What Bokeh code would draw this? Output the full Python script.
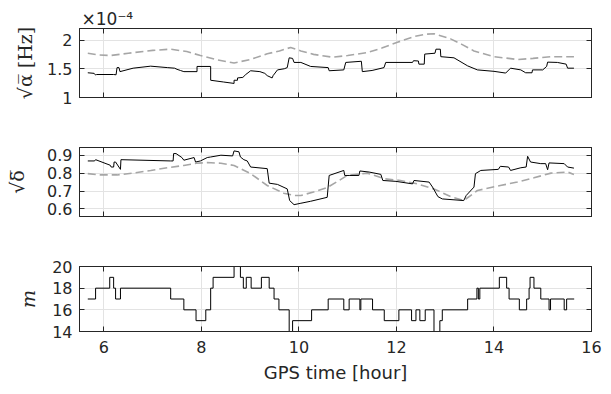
from bokeh.plotting import figure
from bokeh.layouts import column
from bokeh.models import FixedTicker, LinearAxis, Range1d, Title, CustomJSTickFormatter
from bokeh.embed import file_html
from bokeh.resources import INLINE

# ---------------- data ----------------
x_ticks = [6, 8, 10, 12, 14, 16]

# panel 1: sqrt(alpha) [Hz] x 1e-4
t_alpha_model = [5.67, 5.9, 6.14, 6.5, 7.0, 7.37, 7.7, 7.98, 8.3, 8.67, 9.0, 9.35, 9.6, 9.83,
                 10.04, 10.3, 10.69, 11.0, 11.4, 11.7, 12.02, 12.36, 12.6, 12.77, 13.11, 13.35,
                 13.59, 14.0, 14.3, 14.48, 14.8, 15.17, 15.64]
alpha_model = [1.77, 1.74, 1.73, 1.77, 1.82, 1.84, 1.80, 1.73, 1.66, 1.60, 1.66, 1.76, 1.81, 1.87,
               1.81, 1.75, 1.70, 1.73, 1.78, 1.86, 1.96, 2.06, 2.10, 2.11, 2.02, 1.92,
               1.81, 1.71, 1.68, 1.66, 1.68, 1.71, 1.71]
t_alpha_est = [5.67, 5.80, 5.83, 5.85, 6.20, 6.25, 6.27, 6.31, 6.33, 6.6, 6.96, 7.3, 7.45, 7.5,
               7.57, 7.64, 7.91, 7.91, 8.19, 8.19, 8.45, 8.67, 8.67, 8.74, 8.74, 8.85, 8.91, 9.01,
               9.2, 9.3, 9.35, 9.45, 9.47, 9.56, 9.7, 9.76, 9.80, 9.87, 9.90, 10.04, 10.24, 10.6,
               10.62, 10.92, 10.96, 11.28, 11.30, 11.5, 11.745, 11.78, 12.33, 12.35, 12.45, 12.46,
               12.57, 12.58, 12.79, 12.81, 12.90, 12.91, 13.18, 13.46, 13.66, 14.0, 14.24, 14.34,
               14.55, 14.65, 14.78, 14.79, 15.0, 15.08, 15.10, 15.3, 15.48, 15.51, 15.64]
alpha_est = [1.43, 1.42, 1.39, 1.40, 1.40, 1.395, 1.52, 1.52, 1.45, 1.51, 1.545, 1.52, 1.51, 1.49,
             1.47, 1.45, 1.45, 1.54, 1.54, 1.30, 1.27, 1.245, 1.30, 1.30, 1.34, 1.35, 1.40, 1.465,
             1.45, 1.42, 1.38, 1.34, 1.38, 1.48, 1.50, 1.52, 1.69, 1.68, 1.61, 1.61, 1.54, 1.52,
             1.465, 1.48, 1.61, 1.63, 1.45, 1.47, 1.52, 1.61, 1.61, 1.64, 1.635, 1.58,
             1.58, 1.755, 1.77, 1.84, 1.84, 1.71, 1.69, 1.55, 1.48, 1.455, 1.425, 1.51,
             1.48, 1.43, 1.43, 1.48, 1.48, 1.54, 1.615, 1.61, 1.58, 1.51, 1.51]
alpha_ticks = [1, 1.5, 2]
alpha_tick_labels = ["1", "1.5", "2"]
alpha_scale_label = "\u00d710\u207b\u2074"

# panel 2: sqrt(delta)
t_delta_model = [5.67, 5.9, 6.27, 6.6, 6.96, 7.3, 7.64, 7.9, 8.12, 8.4, 8.67, 9.01, 9.35, 9.69,
                 9.90, 10.04, 10.3, 10.58, 10.8, 10.99, 11.4, 11.745, 12.08, 12.43, 12.77, 13.11,
                 13.38, 13.66, 14.13, 14.48, 14.82, 15.17, 15.51, 15.64]
delta_model = [0.797, 0.79, 0.79, 0.80, 0.815, 0.83, 0.843, 0.855, 0.859, 0.855, 0.843, 0.797,
               0.731, 0.688, 0.675, 0.675, 0.695, 0.72, 0.755, 0.787, 0.80, 0.769, 0.759, 0.74,
               0.712, 0.669, 0.647, 0.703, 0.731, 0.75, 0.774, 0.80, 0.806, 0.793]
t_delta_est = [5.67, 5.81, 5.83, 6.13, 6.15, 6.20, 6.21, 6.24, 6.34, 6.35, 7.37, 7.42, 7.43, 7.48,
               7.60, 7.64, 7.85, 7.88, 7.98, 8.12, 8.19, 8.40, 8.64, 8.67, 8.77, 8.80, 8.87, 8.94,
               9.01, 9.35, 9.39, 9.56, 9.76, 9.81, 9.90, 10.04, 10.24, 10.58, 10.62, 10.92, 10.94,
               11.03, 11.23, 11.25, 11.44, 11.68, 11.72, 11.99, 12.33, 12.36, 12.67, 12.74, 12.85,
               12.94, 13.38, 13.43, 13.59, 13.62, 13.73, 14.09, 14.13, 14.30, 14.34, 14.55, 14.66,
               14.69, 14.75, 14.96, 15.06, 15.10, 15.13, 15.44, 15.51, 15.64]
delta_est = [0.868, 0.868, 0.875, 0.844, 0.834, 0.834, 0.862, 0.862, 0.821, 0.875, 0.868, 0.868,
             0.909, 0.909, 0.887, 0.872, 0.887, 0.862, 0.868, 0.887, 0.890, 0.900, 0.896, 0.924,
             0.919, 0.890, 0.875, 0.868, 0.834, 0.825, 0.744, 0.737, 0.712, 0.647, 0.624, 0.632,
             0.643, 0.665, 0.787, 0.815, 0.787, 0.787, 0.787, 0.812, 0.806, 0.793, 0.759, 0.754,
             0.740, 0.759, 0.750, 0.722, 0.669, 0.656, 0.647, 0.675, 0.722, 0.797, 0.815, 0.821,
             0.838, 0.834, 0.815, 0.830, 0.834, 0.894, 0.862, 0.853, 0.853, 0.819, 0.857, 0.853,
             0.834, 0.828]
delta_ticks = [0.6, 0.7, 0.8, 0.9]

# panel 3: m (integer, piecewise constant)
t_m = [5.67, 5.83, 6.12, 6.20, 6.24, 6.34, 7.37, 7.64, 7.89, 8.09, 8.19, 8.24, 8.67, 8.80, 8.86,
       8.92, 9.02, 9.23, 9.39, 9.49, 9.59, 9.80, 9.87, 10.26, 10.60, 10.92, 11.03, 11.25, 11.27,
       11.51, 11.75, 12.05, 12.31, 12.40, 12.48, 12.59, 12.77, 12.89, 12.94, 13.46, 13.65, 13.68,
       13.71, 14.11, 14.26, 14.31, 14.52, 14.67, 14.72, 14.74, 14.82, 14.96, 15.13, 15.16, 15.44,
       15.49, 15.645]
m_vals = [17, 18, 19, 18, 17, 18, 17, 16, 15, 16, 18, 19, 20, 19, 18,
          19, 18, 19, 18, 17, 16, 14, 15, 16, 17, 16, 17, 16, 17,
          16, 15, 16, 15, 16, 15, 16, 14, 15, 16, 17, 18, 17,
          18, 19, 18, 17, 16, 17, 18, 19, 18, 17, 16, 17, 16,
          17, 17]
m_ticks = [14, 16, 18, 20]

# ---------------- styling ----------------
SANS = "DejaVu Sans"
SERIF = "DejaVu Serif"
FRAME = "#262626"
GRID = "#e3e3e3"
DASH = "#a6a6a6"
EMPTY = CustomJSTickFormatter(code="return ''")


def make_fig(height, top, bottom, yr, yticks, ylabel, show_x, ylabel_standoff, italic=False,
             title=None):
    kw = {}
    if title is not None:
        kw["title"] = Title(text=title, align="left", offset=2, standoff=0,
                            text_font=SANS, text_font_size="17px", text_font_style="normal",
                            text_color="#262626")
    p = figure(width=603, height=height, x_range=Range1d(5.5, 16), y_range=Range1d(*yr),
               output_backend="svg", toolbar_location=None,
               min_border_left=79, min_border_right=12,
               min_border_top=top, min_border_bottom=bottom, **kw)
    p.outline_line_color = FRAME
    p.outline_line_width = 1
    p.background_fill_color = "white"
    p.border_fill_color = "white"
    p.xgrid.ticker = FixedTicker(ticks=x_ticks)
    p.ygrid.ticker = FixedTicker(ticks=yticks)
    p.grid.grid_line_color = GRID
    p.grid.grid_line_width = 1

    for ax in (p.xaxis[0], p.yaxis[0]):
        ax.major_tick_in = 5
        ax.major_tick_out = 0
        ax.minor_tick_line_color = None
        ax.axis_line_color = FRAME
        ax.major_tick_line_color = FRAME
        ax.major_label_text_font = SANS
        ax.major_label_text_font_size = "16px"
        ax.major_label_text_color = "#262626"
    p.xaxis[0].ticker = FixedTicker(ticks=x_ticks)
    p.yaxis[0].ticker = FixedTicker(ticks=yticks)
    p.yaxis[0].major_label_standoff = 7
    p.yaxis[0].axis_label = ylabel
    p.yaxis[0].axis_label_text_font = SERIF
    p.yaxis[0].axis_label_text_font_size = "19px"
    p.yaxis[0].axis_label_text_font_style = "italic" if italic else "normal"
    p.yaxis[0].axis_label_text_color = "#262626"
    p.yaxis[0].axis_label_standoff = ylabel_standoff
    if show_x:
        p.xaxis[0].major_label_standoff = 9
        p.xaxis[0].axis_label = "GPS time [hour]"
        p.xaxis[0].axis_label_text_font = SANS
        p.xaxis[0].axis_label_text_font_size = "18px"
        p.xaxis[0].axis_label_text_font_style = "normal"
        p.xaxis[0].axis_label_text_color = "#262626"
        p.xaxis[0].axis_label_standoff = 6
    else:
        p.xaxis[0].formatter = EMPTY
        p.xaxis[0].major_label_text_font_size = "1px"
        p.xaxis[0].major_label_standoff = 0

    top_ax = LinearAxis(ticker=FixedTicker(ticks=x_ticks), formatter=EMPTY,
                        major_tick_in=5, major_tick_out=0, minor_tick_line_color=None,
                        axis_line_color=FRAME, major_tick_line_color=FRAME,
                        major_label_text_font_size="1px", major_label_standoff=0)
    right_ax = LinearAxis(ticker=FixedTicker(ticks=yticks), formatter=EMPTY,
                          major_tick_in=5, major_tick_out=0, minor_tick_line_color=None,
                          axis_line_color=FRAME, major_tick_line_color=FRAME,
                          major_label_text_font_size="1px", major_label_standoff=0)
    p.add_layout(top_ax, "above")
    p.add_layout(right_ax, "right")
    return p


# panel 1
p1 = make_fig(112, 28, 15, (1, 2.2), alpha_ticks, "\u221a\u03b1\u0305 [Hz]", False, 8,
              title=alpha_scale_label)
p1.yaxis[0].major_label_overrides = {t: s for t, s in zip(alpha_ticks, alpha_tick_labels)}
p1.line(t_alpha_model, alpha_model, line_color=DASH, line_width=1.6, line_dash="8 4")
p1.line(t_alpha_est, alpha_est, line_color="black", line_width=1)

# panel 2
p2 = make_fig(119, 35, 15, (0.558, 0.943), delta_ticks, "\u221a\u03b4\u0305", False, 16)
p2.line(t_delta_model, delta_model, line_color=DASH, line_width=1.6, line_dash="8 4")
p2.line(t_delta_est, delta_est, line_color="black", line_width=1)

# panel 3
p3 = make_fig(154, 35, 50, (14, 20), m_ticks, "m", True, 10, italic=True)
p3.step(t_m, m_vals, mode="after", line_color="black", line_width=1)

layout = column(p1, p2, p3, spacing=0)
open("out.html", "w").write(file_html(layout, INLINE))
